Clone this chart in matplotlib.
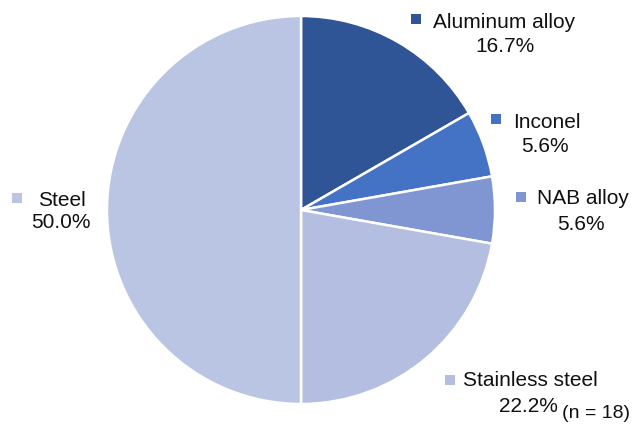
import matplotlib.pyplot as plt

# material share of 18 parts, clockwise from 12 o'clock
materials = ['Aluminum alloy', 'Inconel', 'NAB alloy', 'Stainless steel', 'Steel']
counts = [3, 1, 1, 4, 9]
colors = ['#2F5597', '#4472C4', '#7F96D2', '#B3BEE0', '#BAC4E3']
n_total = 18

plt.rcParams['font.family'] = ['Liberation Sans', 'DejaVu Sans']

W, H = 644, 426
fig = plt.figure(figsize=(W / 100, H / 100), dpi=100)

# pie axes, centre (301, 210) px, radius 194 px
cx, cy, r = 301, 210, 194
ax = fig.add_axes([(cx - r) / W, (H - cy - r) / H, 2 * r / W, 2 * r / H])
wedges, _ = ax.pie(counts, colors=colors, startangle=90, counterclock=False,
                   radius=1, wedgeprops=dict(edgecolor='white', linewidth=1.8))
ax.set_xlim(-1, 1)
ax.set_ylim(-1, 1)
ax.set_aspect('equal')
ax.axis('off')

# overlay in pixel coordinates for labels
lab = fig.add_axes([0, 0, 1, 1], facecolor='none')
lab.set_xlim(0, W)
lab.set_ylim(H, 0)
lab.axis('off')

# (marker x, marker y, name x, name y, pct x, pct y)
spots = [
    (416, 19, 433, 22, 505, 47),
    (496, 119, 513, 123, 545, 147),
    (521, 197, 537, 199, 581, 224),
    (450, 380, 463, 381, 528, 407),
    (17, 198, 38, 200, 61, 223),
]
for name, c, col, (mx, my, tx, ty, px, py) in zip(materials, counts, colors, spots):
    pct = 100 * c / sum(counts)
    lab.plot(mx, my, marker='s', ms=6.5, color=col, mew=0)
    lab.text(tx, ty, name, ha='left', va='center', fontsize=15, color='#111111')
    lab.text(px, py, f'{pct:.1f}%', ha='center', va='center', fontsize=15, color='#111111')

lab.text(562, 413, f'(n = {n_total})', ha='left', va='center', fontsize=14, color='#111111')

fig.savefig('out.png', dpi=100)
